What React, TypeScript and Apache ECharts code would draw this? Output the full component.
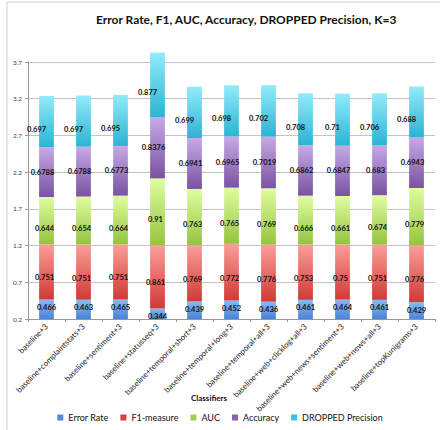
import React, { useEffect, useRef } from "react";
import * as echarts from "echarts";

const classifiers = [
  "baseline+3",
  "baseline+complaintstats+3",
  "baseline+sentiment+3",
  "baseline+statusseq+3",
  "baseline+temporal+short+3",
  "baseline+temporal+long+3",
  "baseline+temporal+all+3",
  "baseline+web+clicklog+all+3",
  "baseline+web+news+sentiment+3",
  "baseline+web+news+all+3",
  "baseline+topKunigrams+3",
];

const errorRate = [0.466, 0.463, 0.465, 0.344, 0.439, 0.452, 0.436, 0.461, 0.464, 0.461, 0.429];
const f1Measure = [0.751, 0.751, 0.751, 0.861, 0.769, 0.772, 0.776, 0.753, 0.75, 0.751, 0.776];
const auc = [0.644, 0.654, 0.664, 0.91, 0.763, 0.765, 0.769, 0.666, 0.661, 0.674, 0.779];
const accuracy = [0.6788, 0.6788, 0.6773, 0.8376, 0.6941, 0.6965, 0.7019, 0.6862, 0.6847, 0.683, 0.6943];
const droppedPrecision = [0.697, 0.697, 0.695, 0.877, 0.699, 0.698, 0.702, 0.708, 0.71, 0.706, 0.688];

const yTicks = [0.2, 0.7, 1.2, 1.7, 2.2, 2.7, 3.2, 3.7];

const FONT = "Lato, 'Open Sans', sans-serif";

const grad = (top: string, bottom: string) =>
  new echarts.graphic.LinearGradient(0, 0, 0, 1, [
    { offset: 0, color: top },
    { offset: 1, color: bottom },
  ]);

export default function App() {
  const ref = useRef<HTMLDivElement>(null);

  useEffect(() => {
    if (!ref.current) return;
    const chart = echarts.init(ref.current, null, { renderer: "svg" });

    const labelBase = {
      show: true,
      position: "inside" as const,
      color: "#111",
      fontSize: 7.5,
      fontWeight: "bold" as const,
      fontFamily: FONT,
      formatter: (p: any) => String(p.value),
    };

    const seriesDefs = [
      { name: "Error Rate", data: errorRate, top: "#8ab8f4", bottom: "#4a84d6", legend: "#4f8ad8", offset: [0, 0], pos: "insideTop", clip: true },
      { name: "F1-measure", data: f1Measure, top: "#fb9e9a", bottom: "#d03a35", legend: "#d9413c", offset: [-2, 6], pos: "inside", clip: false },
      { name: "AUC", data: auc, top: "#e0fda0", bottom: "#94c43f", legend: "#a4d04c", offset: [-2, 8], pos: "inside", clip: false },
      { name: "Accuracy", data: accuracy, top: "#c6aae6", bottom: "#7a52a2", legend: "#8b64b4", offset: [-4, 0], pos: "inside", clip: false },
      { name: "DROPPED Precision", data: droppedPrecision, top: "#93ebfa", bottom: "#2cb3d4", legend: "#3fc0de", offset: [-10, 8], pos: "inside", clip: false },
    ];

    chart.setOption({
      animation: false,
      title: {
        text: "Error Rate, F1, AUC, Accuracy, DROPPED Precision, K=3",
        left: 91,
        top: 8,
        textStyle: { fontFamily: FONT, fontSize: 12, fontWeight: "bold", color: "#111" },
      },
      legend: {
        bottom: 3,
        left: "center",
        icon: "rect",
        itemWidth: 6,
        itemHeight: 6,
        itemGap: 12,
        textStyle: { fontFamily: FONT, fontSize: 9, color: "#111" },
        data: seriesDefs.map((s) => ({ name: s.name, itemStyle: { color: s.legend } })),
      },
      graphic: [
        {
          type: "rect",
          shape: { x: 7, y: 2, width: 440, height: 440 },
          style: { fill: "none", stroke: "#cfcfcf", lineWidth: 1 },
          silent: true,
        },
        {
          type: "text",
          x: 209,
          y: 398,
          style: {
            text: "Classifiers",
            fontFamily: FONT,
            fontSize: 8,
            fontWeight: "bold",
            fill: "#111",
            align: "center",
            verticalAlign: "middle",
          },
        },
      ],
      grid: { left: 28, right: 5, top: 62, bottom: 111, containLabel: false },
      xAxis: {
        type: "category",
        data: classifiers,
        axisLine: { lineStyle: { color: "#999" } },
        axisTick: { show: true, length: 3, lineStyle: { color: "#999" } },
        axisLabel: {
          rotate: 45,
          interval: 0,
          margin: 6,
          fontFamily: FONT,
          fontSize: 8,
          color: "#222",
        },
      },
      yAxis: {
        type: "value",
        min: yTicks[0],
        max: yTicks[yTicks.length - 1],
        interval: 0.5,
        axisLine: { show: true, lineStyle: { color: "#999" } },
        axisTick: { show: true, length: 3, lineStyle: { color: "#999" } },
        axisLabel: {
          margin: 6,
          fontFamily: FONT,
          fontSize: 6.5,
          color: "#444",
          formatter: (v: number) => v.toFixed(1),
        },
        splitLine: { lineStyle: { color: "#c4c4c4", width: 1 } },
      },
      series: seriesDefs.map((s) => ({
        name: s.name,
        type: "bar",
        stack: "total",
        barWidth: "40%",
        clip: s.clip,
        data: s.data,
        itemStyle: { color: grad(s.top, s.bottom) },
        label: { ...labelBase, position: s.pos, offset: s.offset, distance: 4 },
        emphasis: { disabled: true },
      })),
    });

    return () => chart.dispose();
  }, []);

  return <div ref={ref} style={{ width: 440, height: 430, position: "absolute", left: 0, top: 0 }} />;
}
